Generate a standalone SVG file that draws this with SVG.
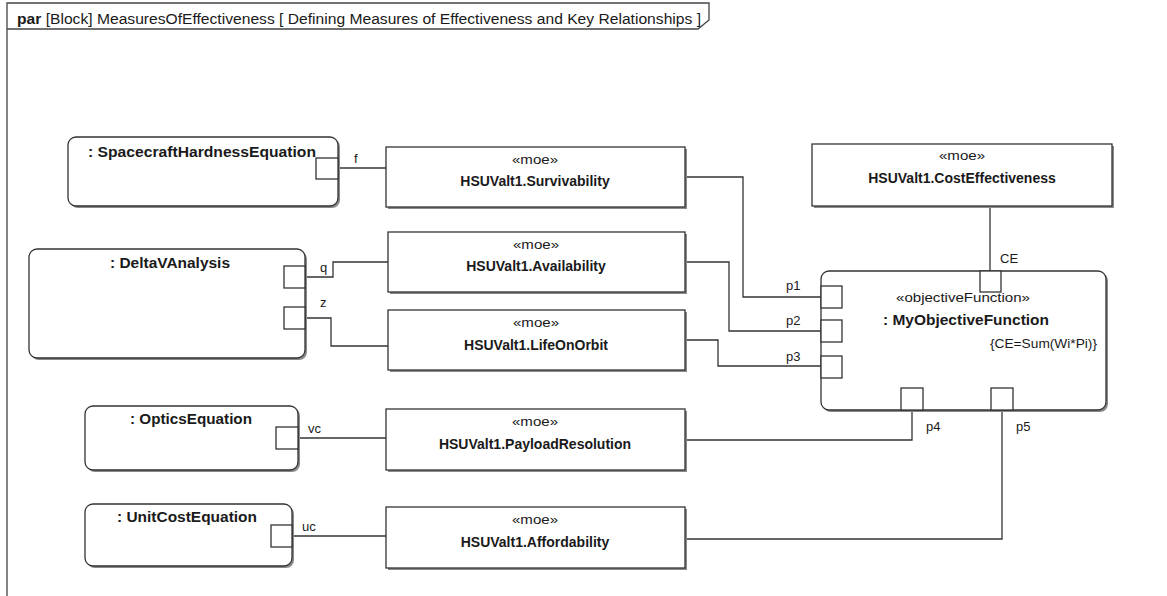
<svg xmlns="http://www.w3.org/2000/svg" width="1167" height="596" viewBox="0 0 1167 596">
<style>
text{font-family:"Liberation Sans",Arial,sans-serif;fill:#1a1a1a}
.hdr{font-size:14px}
.b{font-weight:bold}
.st{font-size:13px}
.nm{font-size:14px;font-weight:bold}
.lbl{font-size:13px}
.box{fill:#fff;stroke:#333;stroke-width:1.3}
.sh{fill:#8a8a8a}
.port{fill:#fff;stroke:#333;stroke-width:1.3}
.con{fill:none;stroke:#333;stroke-width:1.3}
.frame{fill:none;stroke:#444;stroke-width:1.3}
</style>
<rect width="1167" height="596" fill="#fff"/>
<g id="frame">
<path class="frame" d="M7,596 V3 H709 V20 L698,29 H7"/>
<text class="hdr" x="17" y="24" textLength="684" lengthAdjust="spacingAndGlyphs"><tspan class="b">par</tspan> [Block] MeasuresOfEffectiveness [ Defining Measures of Effectiveness and Key Relationships ]</text>
</g>
<g id="connectors">
<path class="con" d="M338,168 H387"/>
<path class="con" d="M305,277 H333 V262 H388"/>
<path class="con" d="M305,318 H331 V346 H388"/>
<path class="con" d="M298,438 H386"/>
<path class="con" d="M292,536 H386"/>
<path class="con" d="M685,177 H743 V297 H821"/>
<path class="con" d="M685,262 H729 V331 H821"/>
<path class="con" d="M685,340 H718 V366 H821"/>
<path class="con" d="M685,440 H912 V410"/>
<path class="con" d="M685,539 H1002 V410"/>
<path class="con" d="M990,206 V271"/>
<text class="lbl" x="354" y="163">f</text>
<text class="lbl" x="320" y="272">q</text>
<text class="lbl" x="320" y="307">z</text>
<text class="lbl" x="308" y="433">vc</text>
<text class="lbl" x="302" y="531">uc</text>
<text class="lbl" x="786" y="290">p1</text>
<text class="lbl" x="786" y="325">p2</text>
<text class="lbl" x="786" y="361">p3</text>
<text class="lbl" x="926" y="431">p4</text>
<text class="lbl" x="1016" y="431">p5</text>
<text class="lbl" x="1000" y="263">CE</text>
</g>
<g id="spacecraftHardness">
<rect class="sh" x="70" y="139" width="270" height="69" rx="8"/>
<rect class="box" x="68" y="137" width="270" height="69" rx="8"/>
<text class="nm" x="88" y="157" textLength="228" lengthAdjust="spacingAndGlyphs">: SpacecraftHardnessEquation</text>
<rect class="port" x="316" y="158" width="22" height="21"/>
</g>
<g id="deltaV">
<rect class="sh" x="31" y="251" width="276" height="109" rx="8"/>
<rect class="box" x="29" y="249" width="276" height="109" rx="8"/>
<text class="nm" x="110" y="268" textLength="120" lengthAdjust="spacingAndGlyphs">: DeltaVAnalysis</text>
<rect class="port" x="284" y="266" width="21" height="22"/>
<rect class="port" x="284" y="307" width="21" height="22"/>
</g>
<g id="optics">
<rect class="sh" x="87" y="408" width="213" height="64" rx="8"/>
<rect class="box" x="85" y="406" width="213" height="64" rx="8"/>
<text class="nm" x="130" y="424" textLength="122" lengthAdjust="spacingAndGlyphs">: OpticsEquation</text>
<rect class="port" x="276" y="427" width="22" height="22"/>
</g>
<g id="unitCost">
<rect class="sh" x="87" y="506" width="207" height="62" rx="8"/>
<rect class="box" x="85" y="504" width="207" height="62" rx="8"/>
<text class="nm" x="117" y="522" textLength="140" lengthAdjust="spacingAndGlyphs">: UnitCostEquation</text>
<rect class="port" x="271" y="525" width="21" height="22"/>
</g>
<g id="survivability">
<rect class="sh" x="388" y="149" width="299" height="60"/>
<rect class="box" x="386" y="147" width="299" height="60"/>
<text class="st" x="512" y="164" textLength="46" lengthAdjust="spacingAndGlyphs">«moe»</text>
<text class="nm" x="535" y="186" text-anchor="middle">HSUValt1.Survivability</text>
</g>
<g id="availability">
<rect class="sh" x="390" y="234" width="297" height="60"/>
<rect class="box" x="388" y="232" width="297" height="60"/>
<text class="st" x="513" y="249" textLength="46" lengthAdjust="spacingAndGlyphs">«moe»</text>
<text class="nm" x="536" y="271" text-anchor="middle">HSUValt1.Availability</text>
</g>
<g id="lifeOnOrbit">
<rect class="sh" x="390" y="312" width="297" height="60"/>
<rect class="box" x="388" y="310" width="297" height="60"/>
<text class="st" x="513" y="327" textLength="46" lengthAdjust="spacingAndGlyphs">«moe»</text>
<text class="nm" x="536" y="350" text-anchor="middle">HSUValt1.LifeOnOrbit</text>
</g>
<g id="payloadResolution">
<rect class="sh" x="388" y="411" width="299" height="61"/>
<rect class="box" x="386" y="409" width="299" height="61"/>
<text class="st" x="512" y="426" textLength="46" lengthAdjust="spacingAndGlyphs">«moe»</text>
<text class="nm" x="535" y="449" text-anchor="middle">HSUValt1.PayloadResolution</text>
</g>
<g id="affordability">
<rect class="sh" x="388" y="509" width="299" height="61"/>
<rect class="box" x="386" y="507" width="299" height="61"/>
<text class="st" x="512" y="524" textLength="46" lengthAdjust="spacingAndGlyphs">«moe»</text>
<text class="nm" x="535" y="547" text-anchor="middle">HSUValt1.Affordability</text>
</g>
<g id="costEffectiveness">
<rect class="sh" x="814" y="146" width="300" height="62"/>
<rect class="box" x="812" y="144" width="300" height="62"/>
<text class="st" x="939" y="160" textLength="46" lengthAdjust="spacingAndGlyphs">«moe»</text>
<text class="nm" x="962" y="183" text-anchor="middle">HSUValt1.CostEffectiveness</text>
</g>
<g id="objectiveFunction">
<rect class="sh" x="823" y="273" width="285" height="139" rx="8"/>
<rect class="box" x="821" y="271" width="285" height="139" rx="8"/>
<text class="st" x="896" y="302" textLength="134" lengthAdjust="spacingAndGlyphs">«objectiveFunction»</text>
<text class="nm" x="883" y="325" textLength="166" lengthAdjust="spacingAndGlyphs">: MyObjectiveFunction</text>
<text class="st" x="990" y="348" textLength="107" lengthAdjust="spacingAndGlyphs">{CE=Sum(Wi*Pi)}</text>
<rect class="port" x="980" y="271" width="21" height="21"/>
<rect class="port" x="821" y="286" width="21" height="22"/>
<rect class="port" x="821" y="320" width="21" height="22"/>
<rect class="port" x="821" y="356" width="21" height="22"/>
<rect class="port" x="901" y="388" width="22" height="22"/>
<rect class="port" x="991" y="388" width="22" height="22"/>
</g>
</svg>
